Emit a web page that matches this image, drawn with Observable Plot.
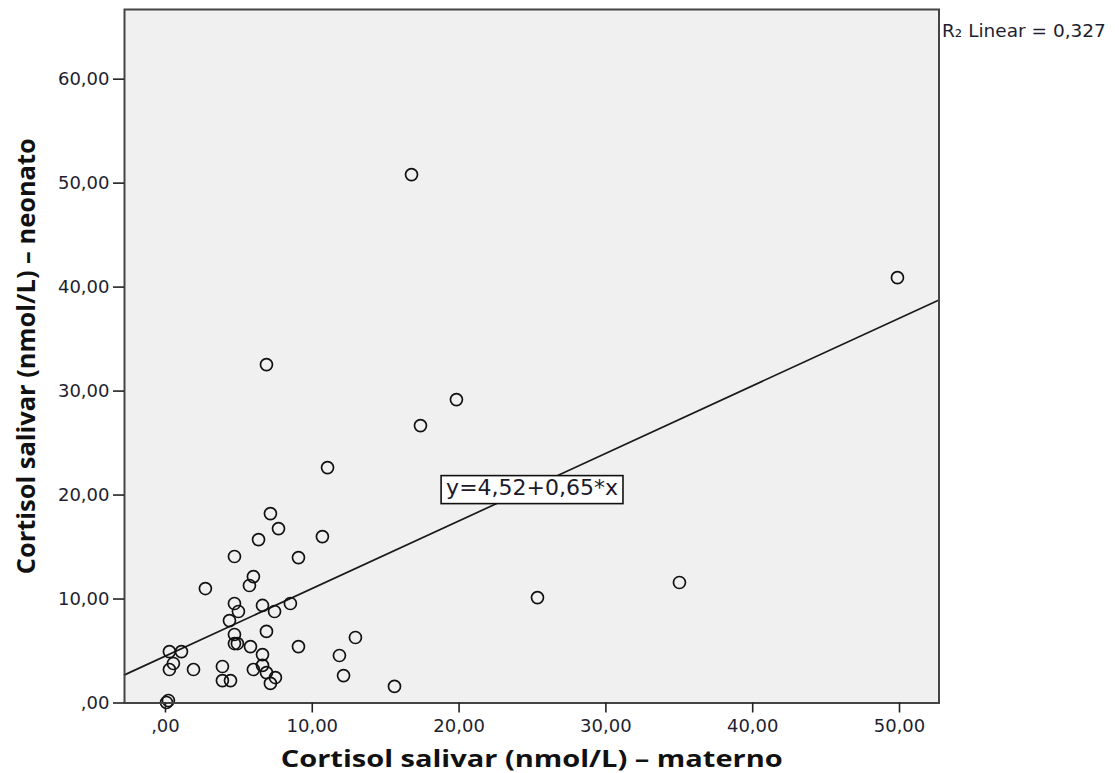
<!DOCTYPE html>
<html>
<head>
<meta charset="utf-8">
<script src="https://cdn.jsdelivr.net/npm/d3@7"></script>
<script src="https://cdn.jsdelivr.net/npm/@observablehq/plot@0.6"></script>
<style>
  html, body { margin: 0; padding: 0; background: #ffffff; }
  #chart { width: 1119px; height: 773px; }
</style>
</head>
<body>
<div id="chart"></div>
<script>
// ---- Data ----
const maternalCortisol = [
  16.76, 49.86, 6.88, 19.82, 17.37, 11.04, 7.15, 7.70, 10.69, 6.34,
  9.06, 4.70, 5.99, 5.72, 2.72, 25.34, 35.01, 4.70, 6.61, 8.51,
  4.97, 7.43, 4.36, 6.88, 4.70, 9.06, 12.94, 4.70, 4.90, 5.79,
  11.85, 0.27, 1.09, 0.54, 0.27, 1.91, 3.88, 6.61, 6.61, 5.99,
  6.88, 3.88, 4.43, 7.15, 7.49, 12.13, 15.60, 0.20, 0.07
];
const neonatalCortisol = [
  50.82, 40.91, 32.55, 29.18, 26.68, 22.64, 18.22, 16.78, 16.01, 15.72,
  13.99, 14.09, 12.16, 11.30, 11.01, 10.14, 11.59, 9.57, 9.38, 9.57,
  8.80, 8.80, 7.93, 6.88, 6.59, 5.43, 6.30, 5.72, 5.72, 5.43,
  4.57, 4.95, 4.95, 3.80, 3.22, 3.22, 3.51, 4.66, 3.61, 3.22,
  2.93, 2.16, 2.16, 1.88, 2.45, 2.64, 1.59, 0.24, 0.05
];
const xTicks = [0, 10, 20, 30, 40, 50];
const yTicks = [0, 10, 20, 30, 40, 50, 60];
const xDomain = [-2.79, 52.69];
const yDomain = [0, 66.7];
const fitIntercept = 4.52;
const fitSlope = 0.65;
const fitLabelText = "y=4,52+0,65*x";
const fitLabelX = 24.97;
const fitLabelY = 20.72;
const r2Text = "R\u2082 Linear = 0,327";
const xTitle = "Cortisol salivar (nmol/L) \u2013 materno";
const yTitle = "Cortisol salivar (nmol/L) \u2013 neonato";

// ---- Derived tables ----
const points = maternalCortisol.map((x, i) => ({x, y: neonatalCortisol[i]}));
const fitLine = xDomain.map(x => ({x, y: fitIntercept + fitSlope * x}));
const fmt = d => d === 0 ? ",00" : d.toFixed(2).replace(".", ",");

const chart = Plot.plot({
  width: 1119,
  height: 773,
  marginLeft: 124,
  marginRight: 180.5,
  marginTop: 9,
  marginBottom: 70.5,
  x: {domain: xDomain},
  y: {domain: yDomain},
  style: {fontFamily: "DejaVu Sans", background: "#ffffff", color: "#1e1e30"},
  marks: [
    Plot.frame({fill: "#f0f0f0"}),
    Plot.line(fitLine, {x: "x", y: "y", stroke: "#1a1a1a", strokeWidth: 1.7}),
    Plot.dot(points, {x: "x", y: "y", r: 6, stroke: "#111111", strokeWidth: 1.7, fill: "none"}),
    Plot.text([fitLabelText], {x: () => fitLabelX, y: () => fitLabelY, text: d => d,
      fontSize: 22, fill: "#1a1a2a"}),
    Plot.frame({stroke: "#444444", strokeWidth: 2}),
    Plot.axisX({ticks: xTicks, tickFormat: fmt, tickSize: 10, tickPadding: 6,
      fontSize: 18, label: null, stroke: "#222", strokeWidth: 1.6, fill: "#1e1e30"}),
    Plot.axisY({ticks: yTicks, tickFormat: fmt, tickSize: 11, tickPadding: 4,
      fontSize: 18, label: null, stroke: "#222", strokeWidth: 1.6, fill: "#1e1e30"}),
    Plot.text([xTitle], {frameAnchor: "bottom", dy: 56, textAnchor: "middle", lineAnchor: "middle",
      text: d => d, fontSize: 24, fontWeight: "bold", fontFamily: "Open Sans", fill: "#111"}),
    Plot.text([yTitle], {frameAnchor: "left", dx: -98, rotate: -90, textAnchor: "middle", lineAnchor: "middle",
      text: d => d, fontSize: 25, fontWeight: "bold", fontFamily: "Open Sans", fill: "#111"}),
    Plot.text([r2Text], {frameAnchor: "top-right", dx: 3, dy: 14, textAnchor: "start",
      text: d => d, fontSize: 18.5, fill: "#1e1e30"})
  ]
});

document.getElementById("chart").appendChild(chart);

const allTexts = Array.from(chart.querySelectorAll("text"));
const findText = s => allTexts.find(el => el.textContent === s);

// Box behind the regression label
const labelText = findText(fitLabelText);
if (labelText) {
  const bb = labelText.getBBox();
  const t = labelText.getAttribute("transform") || "";
  const rect = document.createElementNS("http://www.w3.org/2000/svg", "rect");
  rect.setAttribute("x", bb.x - 5);
  rect.setAttribute("y", bb.y + 1);
  rect.setAttribute("width", bb.width + 10);
  rect.setAttribute("height", bb.height + 3);
  rect.setAttribute("fill", "#ffffff");
  rect.setAttribute("stroke", "#111");
  rect.setAttribute("stroke-width", "1.6");
  if (t) rect.setAttribute("transform", t);
  labelText.parentNode.insertBefore(rect, labelText);
}
// Fit axis titles to the reference lengths
const xt = findText(xTitle);
if (xt) { xt.setAttribute("textLength", 502); xt.setAttribute("lengthAdjust", "spacingAndGlyphs"); }
const yt = findText(yTitle);
if (yt) { yt.setAttribute("textLength", 436); yt.setAttribute("lengthAdjust", "spacingAndGlyphs"); }
</script>
</body>
</html>
